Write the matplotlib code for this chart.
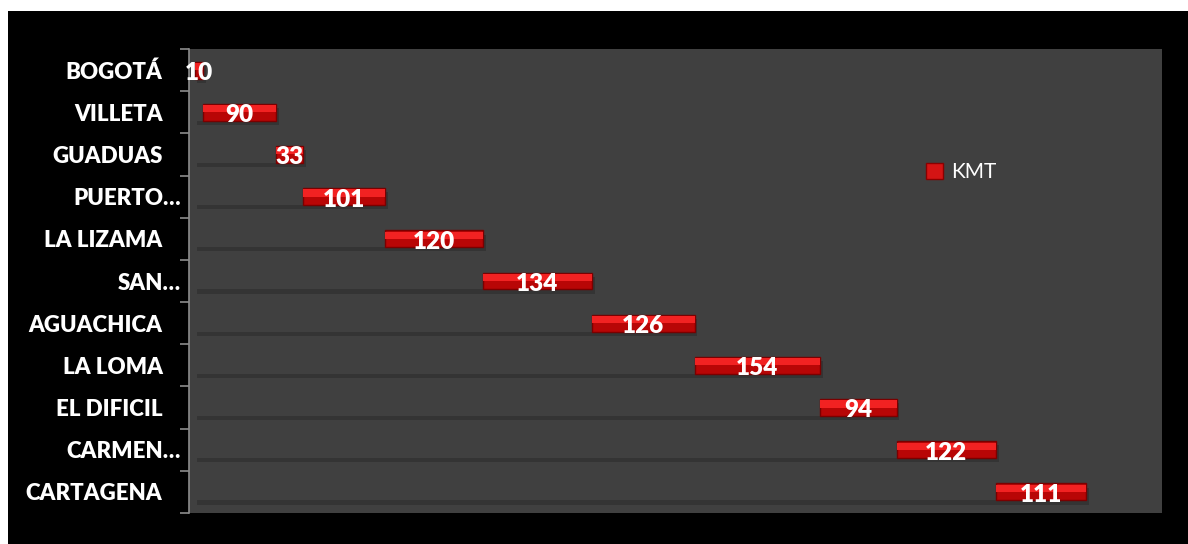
import numpy as np
import matplotlib.pyplot as plt
from matplotlib.patches import Rectangle, Patch
from matplotlib import patheffects as pe

ciudades = ['BOGOTÁ', 'VILLETA', 'GUADUAS', 'PUERTO…', 'LA LIZAMA', 'SAN…',
            'AGUACHICA', 'LA LOMA', 'EL DIFICIL', 'CARMEN…', 'CARTAGENA']
kmt = [10, 90, 33, 101, 120, 134, 126, 154, 94, 122, 111]

plt.rcParams['font.family'] = ['Lato', 'DejaVu Sans']

kmt = np.array(kmt)
base = np.concatenate([[0], np.cumsum(kmt)[:-1]])
y = np.arange(len(ciudades))

fig = plt.figure(figsize=(11.88, 5.44), dpi=100, facecolor='white')
fig.patches.append(Rectangle((8 / 1188, 0), 1, 1 - 11 / 544, transform=fig.transFigure,
                             facecolor='black', edgecolor='none', zorder=-10))
ax = fig.add_axes([189 / 1188, 1 - 513 / 544, 973 / 1188, 464 / 544])
ax.set_facecolor('#404040')

sombra = [pe.SimplePatchShadow(offset=(2, -3), shadow_rgbFace='#262626', alpha=0.45), pe.Normal()]

# barra invisible (solo se ve la sombra)
ax.barh(y, base, height=0.4, color='#404040', path_effects=sombra, zorder=2)
# barra de KMT con efecto biselado
ax.barh(y, kmt, left=base, height=0.4, color='#b80606', edgecolor='#7a0000', linewidth=1,
        path_effects=sombra, zorder=3)
ax.barh(y - 0.085, kmt, left=base, height=0.17, color='#f22222', linewidth=0, zorder=4)

for yi, b, v in zip(y, base, kmt):
    ax.text(b + v / 2, yi + 0.07, str(v), ha='center', va='center', color='white',
            fontsize=17.5, fontweight='heavy', zorder=5)

ax.set_xlim(-7, 1188)
ax.set_ylim(len(ciudades) - 0.5, -0.5)
ax.set_xticks([])
ax.set_yticks(y)
ax.set_yticklabels(ciudades, color='white', fontsize=16, fontweight='heavy')
ax.set_yticks(np.arange(len(ciudades) + 1) - 0.5, minor=True)
ax.tick_params(axis='y', which='major', length=0)
ax.tick_params(axis='y', which='minor', length=6.5, color='#8c8c8c', width=1.2)
for t, nombre in zip(ax.yaxis.get_major_ticks(), ciudades):
    t.set_pad(6 if nombre.endswith('…') else 19)

for s in ['top', 'right', 'bottom']:
    ax.spines[s].set_visible(False)
ax.spines['left'].set_color('#8c8c8c')
ax.spines['left'].set_linewidth(1.2)

ax.legend(handles=[Patch(facecolor='#d41414', edgecolor='#8a0000', label='KMT')],
          loc='center left', bbox_to_anchor=(0.747, 0.735), frameon=False,
          handlelength=0.8, handleheight=0.8, handletextpad=0.4, borderpad=0,
          labelcolor='white', fontsize=15)

fig.savefig('out.png', dpi=100, facecolor=fig.get_facecolor())
